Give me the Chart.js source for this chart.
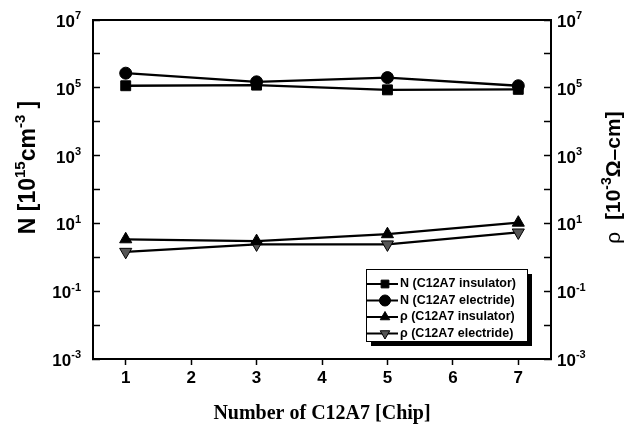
<!DOCTYPE html>
<html>
<head>
<meta charset="utf-8">
<script src="https://cdn.jsdelivr.net/npm/chart.js@4.4.0/dist/chart.umd.min.js"></script>
<style>
  html, body { margin: 0; padding: 0; background: #fff; }
  canvas { display: block; }
</style>
</head>
<body>
<canvas id="chart" width="638" height="426"></canvas>
<script>
// Datos
const chipCounts = [1, 3, 5, 7];
const nInsulator = [1.15e5, 1.2e5, 8.7e4, 9.0e4];
const nElectride = [2.7e5, 1.5e5, 2.0e5, 1.15e5];
const rhoInsulator = [3.4, 3.0, 4.8, 10.5];
const rhoElectride = [1.45, 2.4, 2.4, 5.4];

const seriesLabels = ['N (C12A7 insulator)', 'N (C12A7 electride)', 'ρ (C12A7 insulator)', 'ρ (C12A7 electride)'];
const xTickValues = [1, 2, 3, 4, 5, 6, 7];
const yLabelExps = [-3, -1, 1, 3, 5, 7];
const yTickExps = [-3, -2, -1, 0, 1, 2, 3, 4, 5, 6, 7];
const xTitle = 'Number of C12A7 [Chip]';

const SANS = 'Arial, "Liberation Sans", sans-serif';
const SERIF = '"Times New Roman", "Liberation Serif", serif';

const toPoints = values => chipCounts.map((c, i) => ({ x: c, y: values[i] }));

function makeDataset(label, values, style, axis, extra) {
    return Object.assign({
        label: label,
        data: toPoints(values),
        yAxisID: axis,
        borderColor: '#000',
        backgroundColor: '#000',
        borderWidth: 2.3,
        pointStyle: style,
        pointRadius: 6,
        pointBorderColor: '#000',
        pointBackgroundColor: '#000',
        pointBorderWidth: 1,
        tension: 0
    }, extra || {});
}

// Texto con superíndices: parts = [{t, sup, normal}]
function drawRich(ctx, parts, x, y, size, align) {
    const supSize = Math.round(size * 0.66);
    const fontOf = p => (p.normal ? '' : 'bold ') + (p.sup ? supSize : size) + 'px ' + SANS;
    const widths = parts.map(p => { ctx.font = fontOf(p); return ctx.measureText(p.t).width; });
    const total = widths.reduce((a, b) => a + b, 0);
    let cx = align === 'right' ? x - total : (align === 'center' ? x - total / 2 : x);
    ctx.textAlign = 'left';
    ctx.textBaseline = 'alphabetic';
    parts.forEach((p, i) => {
        ctx.font = fontOf(p);
        ctx.fillText(p.t, cx, p.sup ? y - size * 0.45 : y);
        cx += widths[i];
    });
}

const decorPlugin = {
    id: 'decor',
    afterDraw(chart) {
        const ctx = chart.ctx;
        const area = chart.chartArea;
        const yLeft = chart.scales.y;
        const yRight = chart.scales.y1;
        ctx.save();
        ctx.fillStyle = '#000';
        ctx.strokeStyle = '#000';

        // Marco completo
        ctx.lineWidth = 2;
        ctx.strokeRect(area.left, area.top, area.right - area.left, area.bottom - area.top);

        // Etiquetas de los ejes Y (10^n)
        yLabelExps.forEach(e => {
            const parts = [{ t: '10' }, { t: e < 0 ? '-' + Math.abs(e) : String(e), sup: true }];
            drawRich(ctx, parts, area.left - 12, yLeft.getPixelForValue(Math.pow(10, e)) + 7, 17, 'right');
            drawRich(ctx, parts, area.right + 6, yRight.getPixelForValue(Math.pow(10, e)) + 7, 17, 'left');
        });

        // Título eje izquierdo
        ctx.save();
        ctx.translate(35, (area.top + area.bottom) / 2 - 22);
        ctx.rotate(-Math.PI / 2);
        drawRich(ctx, [{ t: 'N [10' }, { t: '15', sup: true }, { t: 'cm' }, { t: '-3', sup: true }, { t: ' ]' }], 0, 0, 23, 'center');
        ctx.restore();

        // Título eje derecho
        ctx.save();
        ctx.translate(620, (area.top + area.bottom) / 2 - 12);
        ctx.rotate(-Math.PI / 2);
        drawRich(ctx, [{ t: 'ρ', normal: true }, { t: '  [10' }, { t: '-3', sup: true }, { t: 'Ω–cm]' }], 0, 0, 21, 'center');
        ctx.restore();

        // Leyenda con sombra
        const lg = { x: area.right - 185, y: area.bottom - 90, w: 161, h: 72 };
        ctx.fillStyle = '#000';
        ctx.fillRect(lg.x + 5, lg.y + 5, lg.w, lg.h);
        ctx.fillStyle = '#fff';
        ctx.fillRect(lg.x, lg.y, lg.w, lg.h);
        ctx.lineWidth = 1;
        ctx.strokeRect(lg.x + 0.5, lg.y + 0.5, lg.w, lg.h);

        chart.data.datasets.forEach((ds, i) => {
            const ry = lg.y + 15 + i * 16.5;
            ctx.strokeStyle = '#000';
            ctx.lineWidth = 2;
            ctx.beginPath();
            ctx.moveTo(lg.x + 1, ry);
            ctx.lineTo(lg.x + 32, ry);
            ctx.stroke();
            ctx.fillStyle = ds.pointBackgroundColor;
            ctx.lineWidth = 1;
            Chart.helpers.drawPoint(ctx, {
                pointStyle: ds.pointStyle,
                rotation: ds.pointRotation || 0,
                radius: 5.5,
                borderWidth: 1
            }, lg.x + 19, ry);
            ctx.fillStyle = '#000';
            ctx.font = 'bold 12.5px ' + SANS;
            ctx.textAlign = 'left';
            ctx.textBaseline = 'middle';
            ctx.fillText(ds.label, lg.x + 34, ry);
        });

        ctx.restore();
    }
};

const yAxisBase = (position, width) => ({
    type: 'logarithmic',
    position: position,
    min: 1e-3,
    max: 1e7,
    afterBuildTicks: scale => { scale.ticks = yTickExps.map(e => ({ value: Math.pow(10, e) })); },
    afterFit: scale => { scale.width = width; },
    ticks: { display: false },
    grid: { drawOnChartArea: false, tickLength: -7, tickWidth: 1.5, tickColor: '#000' },
    border: { color: '#000', width: 2 }
});

const chart = new Chart(document.getElementById('chart').getContext('2d'), {
    type: 'line',
    data: {
        datasets: [
            makeDataset(seriesLabels[0], nInsulator, 'rect', 'y', { pointRadius: 7 }),
            makeDataset(seriesLabels[1], nElectride, 'circle', 'y'),
            makeDataset(seriesLabels[2], rhoInsulator, 'triangle', 'y1', { pointRadius: 7 }),
            makeDataset(seriesLabels[3], rhoElectride, 'triangle', 'y1', { pointRadius: 7, pointRotation: 180, pointBackgroundColor: '#555' })
        ]
    },
    options: {
        responsive: false,
        animation: false,
        events: [],
        layout: { padding: { top: 20, left: 0, right: 0, bottom: 0 } },
        plugins: {
            legend: { display: false },
            tooltip: { enabled: false }
        },
        scales: {
            x: {
                type: 'linear',
                min: 0.5,
                max: 7.5,
                afterBuildTicks: scale => { scale.ticks = xTickValues.map(v => ({ value: v })); },
                afterFit: scale => { scale.height = 67; },
                ticks: {
                    color: '#000',
                    padding: 3,
                    maxRotation: 0,
                    font: { family: SANS, size: 17, weight: 'bold' },
                    callback: v => String(v)
                },
                grid: { drawOnChartArea: false, tickLength: 6, tickWidth: 1.5, tickColor: '#000' },
                border: { color: '#000', width: 2 },
                title: {
                    display: true,
                    text: xTitle,
                    color: '#000',
                    font: { family: SERIF, size: 20, weight: 'bold' },
                    padding: { top: 0, bottom: 0 }
                }
            },
            y: yAxisBase('left', 93),
            y1: yAxisBase('right', 87)
        }
    },
    plugins: [decorPlugin]
});
</script>
</body>
</html>
